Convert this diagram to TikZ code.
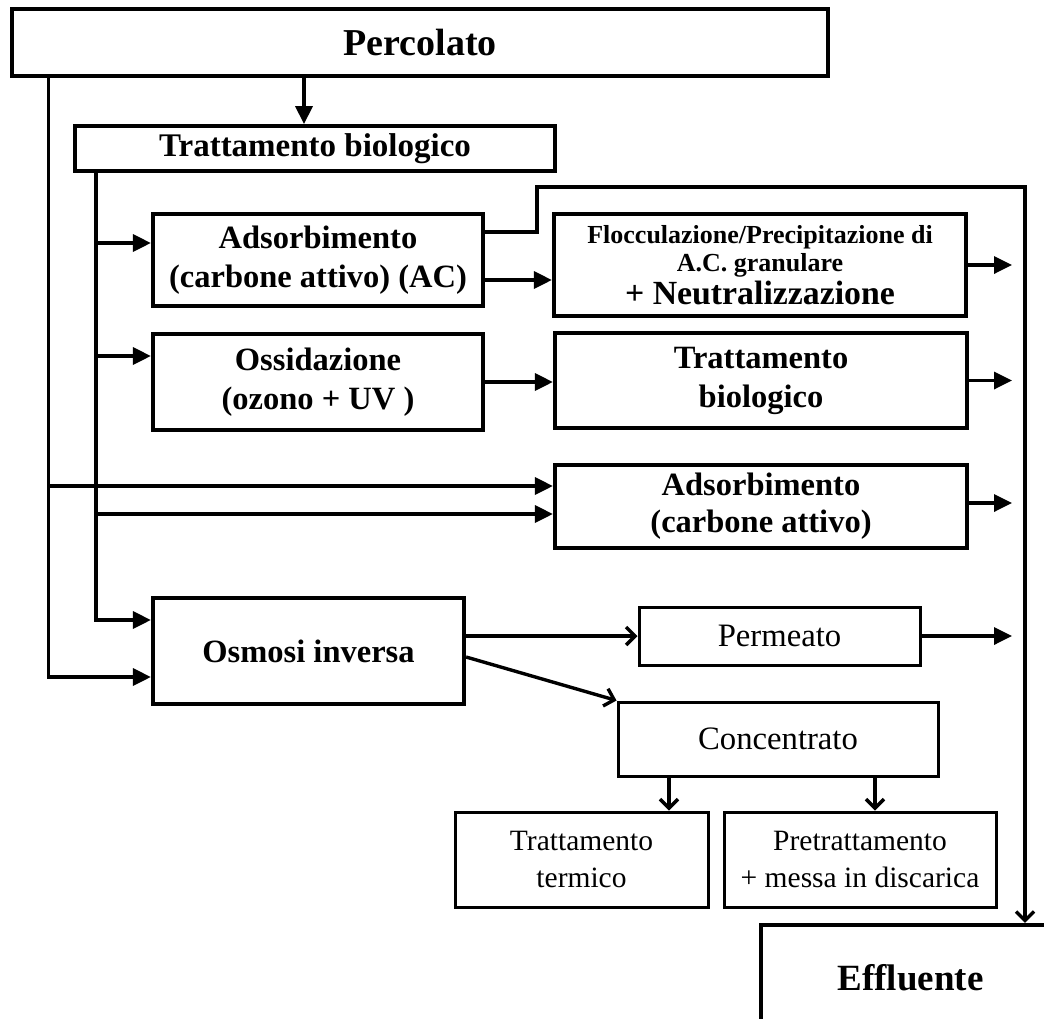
\documentclass[tikz,border=0pt]{standalone}
\usepackage{fontspec}
\setmainfont{Liberation Serif}
\usetikzlibrary{arrows.meta}

\newcommand{\fsz}[2]{\fontsize{#1}{#2}\selectfont}

\begin{document}
\begin{tikzpicture}[
  x=1pt, y=-1pt,
  heavy/.style={draw, line width=4.2pt, align=center, inner sep=0pt, font=\bfseries\fsz{32.5}{39}},
  light/.style={draw, line width=3pt, align=center, inner sep=0pt, font=\fsz{32.7}{37}},
  arr/.style={-{Triangle[length=18pt,width=17pt]}, line width=3.4pt},
  varr/.style={-{Straight Barb[length=9pt,width=18pt]}, line width=3.4pt}
]
\useasboundingbox (0,0) rectangle (1044,1018);
\clip (0,0) rectangle (1044,1018);

\node[heavy, minimum width=816pt, minimum height=67pt, line width=4.6pt, font=\bfseries\fsz{38}{42}] (perc) at (420,42.5) {Percolato};
\node[heavy, minimum width=480pt, minimum height=45pt, line width=3.8pt, font=\bfseries\fsz{33}{38}] (tb) at (315,148.5) {Trattamento biologico};
\node[heavy, minimum width=330pt, minimum height=92pt] (ac) at (318,260) {Adsorbimento\\(carbone attivo) (AC)};
\node[heavy, minimum width=412pt, minimum height=102pt, font=\bfseries\fsz{26}{28}] (floc) at (760,265) {Flocculazione/Precipitazione di\\A.C. granulare\\[3pt]\fsz{33.8}{38}+ Neutralizzazione};
\node[heavy, minimum width=330pt, minimum height=96pt] (oss) at (318,382) {Ossidazione\\(ozono + UV )};
\node[heavy, minimum width=412pt, minimum height=95pt] (tb2) at (761,380.5) {Trattamento\\biologico};
\node[heavy, minimum width=412pt, minimum height=83pt, font=\bfseries\fsz{32.5}{37}] (ads2) at (761,506.5) {Adsorbimento\\(carbone attivo)};
\node[heavy, minimum width=311pt, minimum height=106pt] (osm) at (308.5,651) {Osmosi inversa};
\node[light, minimum width=281pt, minimum height=58pt] (perm) at (779.5,636) {Permeato};
\node[light, minimum width=320pt, minimum height=74pt] (conc) at (778,739) {Concentrato};
\node[light, minimum width=253pt, minimum height=95pt, font=\fsz{29.5}{37}] (tt) at (581.5,859.5) {Trattamento\\termico};
\node[light, minimum width=272pt, minimum height=95pt, font=\fsz{29.5}{37}] (pre) at (860,859.5) {Pretrattamento\\+ messa in discarica};
\node[heavy, minimum width=299pt, minimum height=105pt, font=\bfseries\fsz{37}{42}] (eff) at (910.5,977.5) {Effluente};

\coordinate (rim) at (1012,0);
\coordinate (drop) at (1025,0);
\coordinate (bend) at (537,187);
\coordinate (trunkA) at ([xshift=39pt]perc.south west);
\coordinate (trunkB) at ([xshift=23pt]tb.south west);

\draw[arr] ([xshift=-116pt]perc.south) -- ([xshift=-116pt]perc.south |- tb.north);
\draw[arr] (trunkA) |- ([yshift=-26pt]osm.west);
\draw[arr] ([yshift=20.5pt]ads2.west -| trunkA) -- ([yshift=20.5pt]ads2.west);
\draw[arr] (trunkB) |- ([yshift=31pt]osm.west);
\draw[arr] ([yshift=17pt]ac.west -| trunkB) -- ([yshift=17pt]ac.west);
\draw[arr] ([yshift=26pt]oss.west -| trunkB) -- ([yshift=26pt]oss.west);
\draw[arr] ([yshift=-7.5pt]ads2.west -| trunkB) -- ([yshift=-7.5pt]ads2.west);
\draw[arr] ([yshift=-20pt]ac.east) -- ([yshift=-20pt]ac.east -| floc.west);
\draw[varr] ([yshift=28pt]ac.east) -| (bend) -| (drop |- eff.north);
\draw[arr] (floc.east) -- (floc.east -| rim);
\draw[arr] (oss.east) -- (oss.east -| tb2.west);
\draw[arr] (tb2.east) -- (tb2.east -| rim);
\draw[arr] ([yshift=3.5pt]ads2.east) -- ([yshift=3.5pt]ads2.east -| rim);
\draw[varr] ([yshift=15pt]osm.east) -- ([yshift=15pt]osm.east -| perm.west);
\draw[varr] ([yshift=-6pt]osm.east) -- (conc.north west);
\draw[arr] (perm.east) -- (perm.east -| rim);
\draw[varr] ([xshift=-109pt]conc.south) -- ([xshift=-109pt]conc.south |- tt.north);
\draw[varr] ([xshift=97pt]conc.south) -- ([xshift=97pt]conc.south |- pre.north);
\end{tikzpicture}
\end{document}
